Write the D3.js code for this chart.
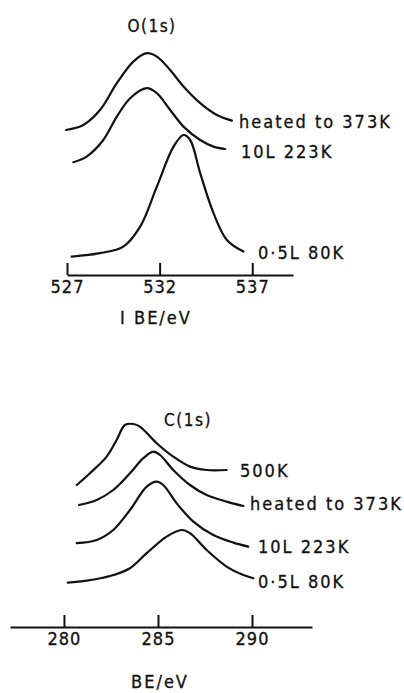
<!DOCTYPE html>
<html>
<head>
<meta charset="utf-8">
<script src="https://cdn.jsdelivr.net/npm/d3@7"></script>
<style>
  body { margin: 0; background: #fff; }
  svg { display: block; }
  text { font-family: "DejaVu Sans Condensed", "DejaVu Sans", sans-serif; fill: #111; stroke: #111; stroke-width: 0.3; }
</style>
</head>
<body>
<div id="chart"></div>
<script>
// O(1s) spectra: [BE eV, intensity (arb.)]
const oHeated = [[526.95,73],[527.88,75.5],[528.78,83],[529.69,96.4],[530.58,107.2],[531.31,111.4],[531.85,109.7],[532.57,103],[533.29,94.7],[534.19,86.4],[535.09,80.5],[535.9,77.7]];
const o10L = [[527.34,56.9],[528.06,59.7],[528.96,68],[529.69,79.7],[530.41,88.9],[531.31,93.9],[531.85,91.4],[532.57,83],[533.29,74.7],[534.19,68],[534.91,64.7],[535.54,63.5]];
const o05L = [[527.25,9.7],[528.78,11.4],[530.04,14.7],[530.95,24.7],[531.85,44.7],[532.75,64.7],[533.29,70.5],[533.65,68],[534.19,51.4],[534.91,31.4],[535.63,18],[536.53,12.2]];
const oLabels = ["heated to 373K", "10L 223K", "0·5L 80K"];
const oTicks = [527, 532, 537];

// C(1s) spectra
const c500 = [[280.68,71],[281.38,76.9],[282.27,85.2],[282.8,93.5],[283.24,101],[283.69,101.5],[284.04,100.2],[284.93,91.9],[285.81,85.2],[286.7,80.2],[287.59,78.5],[288.65,78.5]];
const cHeated = [[280.8,61],[281.74,63.5],[282.62,68.5],[283.51,76.9],[284.22,84.4],[284.75,87.7],[285.11,86],[285.81,78.5],[286.7,71],[287.59,66],[288.65,62.7],[289.54,60.5]];
const c10L = [[280.68,41.9],[281.74,43.5],[282.62,48.5],[283.51,58.5],[284.4,70.2],[284.93,72.7],[285.28,71],[285.99,61.9],[286.88,52.7],[287.94,46],[289.01,42.2],[289.8,40.2]];
const c05L = [[280.2,22.2],[281.21,23.2],[282.45,25.5],[283.51,29.4],[284.4,36.9],[285.46,45.2],[286.26,48.5],[286.7,46.9],[287.59,38.5],[288.65,30.2],[289.54,26],[290.07,24.4]];
const cLabels = ["500K", "heated to 373K", "10L 223K", "0·5L 80K"];
const cTicks = [280, 285, 290];

const width = 404, height = 693;
const svg = d3.select("#chart").append("svg")
  .attr("width", width)
  .attr("height", height);

function panel(opts) {
  const { xDomain, xRange, yBase, series, labels, labelPos, ticks, title, titlePos, xTitle, xTitlePos } = opts;
  const x = d3.scaleLinear().domain(xDomain).range(xRange);
  const y = d3.scaleLinear().domain([0, 120]).range([yBase, yBase - 240]);

  const line = d3.line()
    .x(d => x(d[0]))
    .y(d => y(d[1]))
    .curve(d3.curveCatmullRom.alpha(0.5));

  const g = svg.append("g");

  g.selectAll("path.spec")
    .data(series)
    .join("path")
    .attr("class", "spec")
    .attr("d", line)
    .attr("fill", "none")
    .attr("stroke", "#111")
    .attr("stroke-width", 2.2)
    .attr("stroke-linecap", "round");

  // curve labels sit just right of each curve end
  g.selectAll("text.lab")
    .data(labels)
    .join("text")
    .attr("class", "lab")
    .attr("x", (d, i) => labelPos[i][0])
    .attr("y", (d, i) => labelPos[i][1])
    .attr("font-size", 18)
    .attr("letter-spacing", 2)
    .text(d => d);

  const axis = d3.axisBottom(x)
    .tickValues(ticks)
    .tickSizeInner(-12)
    .tickSizeOuter(0)
    .tickPadding(5)
    .tickFormat(d3.format("d"));

  const ax = g.append("g")
    .attr("transform", `translate(0,${opts.axisY})`)
    .call(axis);
  ax.select(".domain").attr("stroke", "#111").attr("stroke-width", 2.2);
  ax.selectAll(".tick line").attr("stroke", "#111").attr("stroke-width", 2);
  ax.selectAll(".tick text")
    .attr("font-size", 18)
    .attr("font-family", "DejaVu Sans Condensed, DejaVu Sans, sans-serif")
    .attr("fill", "#111")
    .attr("letter-spacing", 1);

  g.append("text")
    .attr("x", titlePos[0]).attr("y", titlePos[1])
    .attr("text-anchor", "middle")
    .attr("font-size", 17)
    .attr("letter-spacing", 1.5)
    .text(title);

  g.append("text")
    .attr("x", xTitlePos[0]).attr("y", xTitlePos[1])
    .attr("text-anchor", "middle")
    .attr("font-size", 18)
    .attr("letter-spacing", 2)
    .text(xTitle);
}

panel({
  xDomain: [527, 539.2], xRange: [67, 293],
  yBase: 276, axisY: 275,
  series: [oHeated, o10L, o05L],
  labels: oLabels,
  labelPos: [[239, 128], [241, 158], [258, 259]],
  ticks: oTicks,
  title: "O(1s)", titlePos: [152, 32],
  xTitle: "I  BE/eV", xTitlePos: [156, 324]
});

panel({
  xDomain: [277.13, 293.19], xRange: [10, 312],
  yBase: 627, axisY: 627,
  series: [c500, cHeated, c10L, c05L],
  labels: cLabels,
  labelPos: [[240, 477], [250, 510], [258, 553], [258, 588]],
  ticks: cTicks,
  title: "C(1s)", titlePos: [188, 426],
  xTitle: "BE/eV", xTitlePos: [160, 688]
});
</script>
</body>
</html>
